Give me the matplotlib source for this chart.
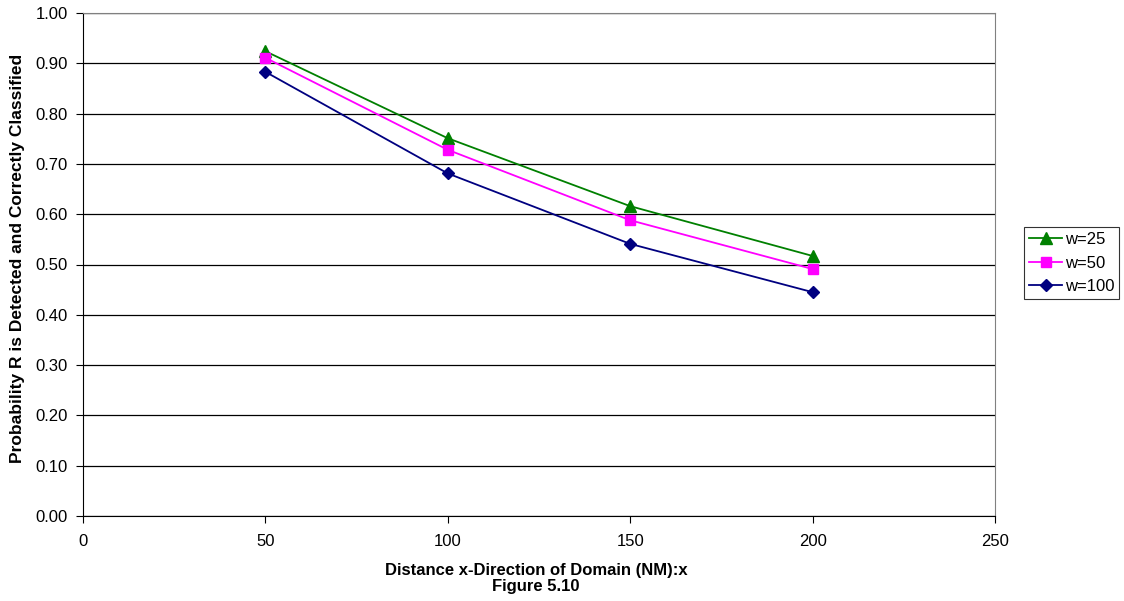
import matplotlib
matplotlib.use("Agg")
import matplotlib.pyplot as plt

plt.rcParams['font.family'] = ['Liberation Sans', 'DejaVu Sans']

x = [50, 100, 150, 200]
w25 = [0.924, 0.751, 0.616, 0.517]
w50 = [0.911, 0.728, 0.588, 0.491]
w100 = [0.883, 0.681, 0.541, 0.445]
labels = ["w=25", "w=50", "w=100"]

fig = plt.figure(figsize=(11.24, 6.01), dpi=100)
ax = fig.add_axes([83/1124, 1-516/601, (995-83)/1124, (516-13)/601])

ax.plot(x, w25, color='#008000', marker='^', markersize=8, lw=1.3, label=labels[0])
ax.plot(x, w50, color='#FF00FF', marker='s', markersize=7.5, lw=1.3, label=labels[1])
ax.plot(x, w100, color='#000080', marker='D', markersize=6, lw=1.3, label=labels[2])

ax.set_xlim(0, 250)
ax.set_ylim(0, 1.0)
ax.set_xticks(range(0, 251, 50))
yt = [i/10 for i in range(11)]
ax.set_yticks(yt)
ax.set_yticklabels([f"{v:.2f}" for v in yt])
ax.yaxis.grid(True, color='black', lw=0.9)
ax.set_axisbelow(True)
for s in ['top', 'right']:
    ax.spines[s].set_color('#808080')
for s in ['left', 'bottom']:
    ax.spines[s].set_color('black')
ax.tick_params(direction='out', length=5, labelsize=12, color='black')
ax.tick_params(axis='y', pad=6)
ax.tick_params(axis='x', pad=8)

fig.text(18/1124, 1-258/601, "Probability R is Detected and Correctly Classified", rotation=90,
         ha='center', va='center', fontsize=12.5, fontweight='bold')
fig.text(536/1124, 1-570/601, "Distance x-Direction of Domain (NM):x", ha='center', va='center',
         fontsize=12, fontweight='bold')
fig.text(536/1124, 1-587/601, "Figure 5.10", ha='center', va='center', fontsize=12, fontweight='bold')

leg = ax.legend(loc='center left', bbox_to_anchor=(1024/1124, 1-263/601), bbox_transform=fig.transFigure,
                frameon=True, fancybox=False, edgecolor='black', fontsize=12, borderpad=0.3,
                handlelength=2.0, labelspacing=0.5, handletextpad=0.15, borderaxespad=0)
leg.get_frame().set_linewidth(0.8)

fig.savefig("out.png", dpi=100)
